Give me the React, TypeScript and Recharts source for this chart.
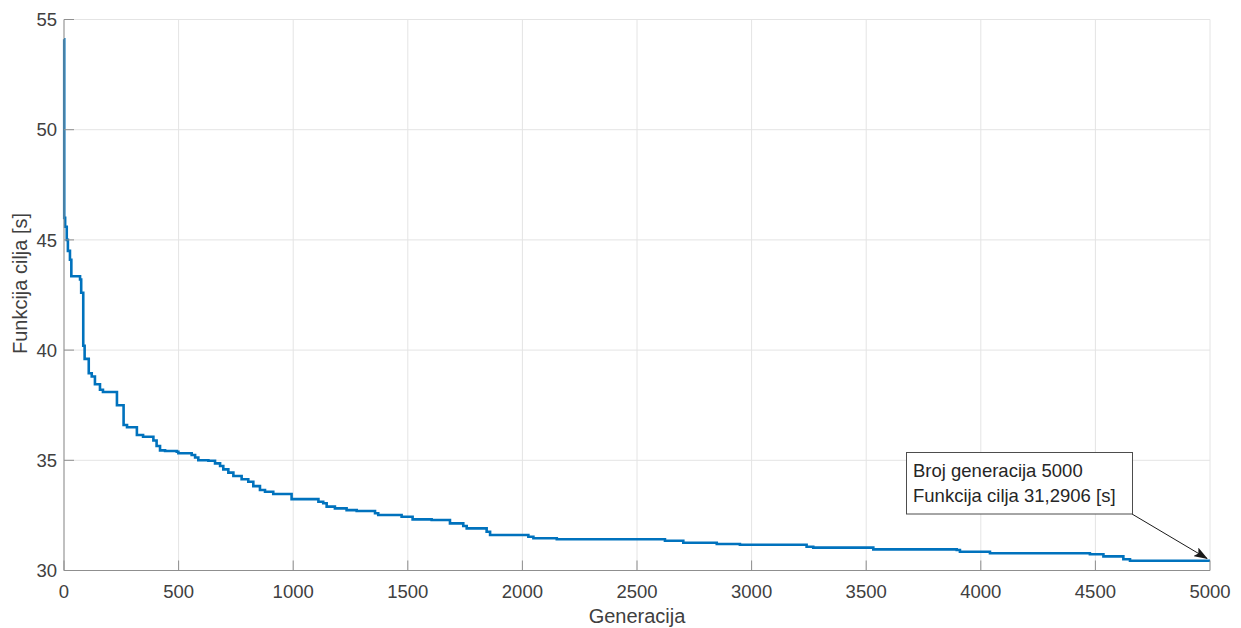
import {
  LineChart,
  Line,
  XAxis,
  YAxis,
  CartesianGrid,
} from "recharts";

// ── Data ──────────────────────────────────────────────────────────────────────

const GENERATIONS = [
  0, 1, 5, 12, 17, 26, 32, 70, 75, 84, 90, 108, 121, 135, 157, 170, 231, 260,
  275, 318, 345, 390, 404, 419, 441, 492, 499, 557, 572, 586, 630, 659, 681,
  695, 717, 739, 775, 804, 826, 855, 877, 913, 993, 1110, 1131, 1146, 1182,
  1233, 1277, 1357, 1371, 1473, 1521, 1604, 1684, 1742, 1757, 1844, 1859,
  2026, 2048, 2150, 2622, 2702, 2848, 2949, 3240, 3269, 3531, 3895, 3909,
  4040, 4476, 4535, 4622, 4651, 5000,
];

const FITNESS = [
  54.1, 46.0, 45.6, 45.0, 44.5, 44.1, 43.35, 43.2, 42.6, 40.2, 39.6, 38.95,
  38.8, 38.45, 38.2, 38.1, 37.5, 36.6, 36.5, 36.15, 36.07, 35.9, 35.65, 35.45,
  35.42, 35.39, 35.32, 35.24, 35.13, 35.0, 34.98, 34.86, 34.74, 34.59, 34.44,
  34.29, 34.14, 34.03, 33.83, 33.65, 33.57, 33.47, 33.24, 33.12, 33.05, 32.9,
  32.82, 32.74, 32.7, 32.6, 32.52, 32.44, 32.32, 32.29, 32.14, 32.02, 31.91,
  31.76, 31.61, 31.53, 31.46, 31.42, 31.35, 31.26, 31.2, 31.17, 31.08, 31.04,
  30.96, 30.93, 30.85, 30.78, 30.74, 30.64, 30.51, 30.44, 30.44,
];

const X_TICKS = [0, 500, 1000, 1500, 2000, 2500, 3000, 3500, 4000, 4500, 5000];
const Y_TICKS = [30, 35, 40, 45, 50, 55];

const ANNOTATION = ["Broj generacija 5000", "Funkcija cilja 31,2906 [s]"];

const data = GENERATIONS.map((g, i) => ({ gen: g, value: FITNESS[i] }));

// ── Styles ────────────────────────────────────────────────────────────────────

const FONT = '"Liberation Sans", Arial, Helvetica, sans-serif';
const AXIS = "#8f8f8f";
const GRID = "#e4e4e4";
const TEXT = "#404040";
const LINE = "#0072BD";
const TICK_LEN = 10;

// ── Ticks (MATLAB style: pointing inwards) ────────────────────────────────────

function BottomTick({ x, y, payload }: any) {
  return (
    <g>
      <line x1={x} y1={y} x2={x} y2={y - TICK_LEN} stroke={AXIS} />
      <text x={x} y={y + 27.5} textAnchor="middle" fontSize={18.5} fill={TEXT} fontFamily={FONT}>
        {payload.value}
      </text>
    </g>
  );
}

function TopTick({ x, y }: any) {
  return <line x1={x} y1={y} x2={x} y2={y + TICK_LEN} stroke={AXIS} />;
}

function LeftTick({ x, y, payload }: any) {
  return (
    <g>
      <line x1={x} y1={y} x2={x + TICK_LEN} y2={y} stroke={AXIS} />
      <text x={x - 7} y={y + 6.6} textAnchor="end" fontSize={18.5} fill={TEXT} fontFamily={FONT}>
        {payload.value}
      </text>
    </g>
  );
}

function RightTick({ x, y }: any) {
  return <line x1={x} y1={y} x2={x - TICK_LEN} y2={y} stroke={AXIS} />;
}

// ── Component ─────────────────────────────────────────────────────────────────

export default function App() {
  return (
    <div style={{ position: "absolute", left: 0, top: 0, width: 1241, height: 628, background: "#fff", fontFamily: FONT }}>
      <LineChart
        width={1241}
        height={628}
        data={data}
        margin={{ top: 19.5, right: 31, bottom: 0, left: 0 }}
      >
        <CartesianGrid stroke={GRID} />
        <XAxis
          dataKey="gen"
          type="number"
          domain={[0, 5000]}
          ticks={X_TICKS}
          height={57.5}
          tickSize={0}
          tickMargin={0}
          tickLine={false}
          axisLine={{ stroke: AXIS }}
          tick={<BottomTick />}
          interval={0}
        />
        <XAxis
          xAxisId="top"
          orientation="top"
          dataKey="gen"
          type="number"
          domain={[0, 5000]}
          ticks={X_TICKS}
          height={0}
          tickSize={0}
          tickMargin={0}
          tickLine={false}
          axisLine={{ stroke: AXIS }}
          tick={<TopTick />}
          interval={0}
        />
        <YAxis
          type="number"
          domain={[30, 55]}
          ticks={Y_TICKS}
          width={64}
          tickSize={0}
          tickMargin={0}
          tickLine={false}
          axisLine={{ stroke: AXIS }}
          tick={<LeftTick />}
          interval={0}
        />
        <YAxis
          yAxisId="right"
          orientation="right"
          type="number"
          domain={[30, 55]}
          ticks={Y_TICKS}
          width={0}
          tickSize={0}
          tickMargin={0}
          tickLine={false}
          axisLine={{ stroke: AXIS }}
          tick={<RightTick />}
          interval={0}
        />
        <Line
          type="stepAfter"
          dataKey="value"
          stroke={LINE}
          strokeWidth={2.6}
          dot={false}
          activeDot={false}
          isAnimationActive={false}
        />
      </LineChart>

      {/* Axis titles and the data-tip annotation */}
      <svg
        width={1241}
        height={628}
        style={{ position: "absolute", left: 0, top: 0, pointerEvents: "none" }}
      >
        <defs>
          <marker id="arrowHead" markerWidth="14" markerHeight="10" refX="13" refY="5" orient="auto" markerUnits="userSpaceOnUse">
            <path d="M0,0 L14,5 L0,10 L3,5 Z" fill="#1a1a1a" />
          </marker>
        </defs>
        <text x={637} y={623} textAnchor="middle" fontSize={20} fill={TEXT} fontFamily={FONT}>
          Generacija
        </text>
        <text
          x={26.5}
          y={283.5}
          textAnchor="middle"
          fontSize={20}
          fill={TEXT}
          fontFamily={FONT}
          transform="rotate(-90 26.5 283.5)"
        >
          Funkcija cilja [s]
        </text>

        <line x1={1132} y1={514} x2={1207} y2={558.5} stroke="#1a1a1a" strokeWidth={1} markerEnd="url(#arrowHead)" />
        <rect x={906.5} y={452.5} width={226} height={61.5} fill="#fff" stroke="#4d4d4d" strokeWidth={1} />
        {ANNOTATION.map((line, i) => (
          <text key={line} x={913} y={477 + i * 25} fontSize={18.5} fill="#262626" fontFamily={FONT}>
            {line}
          </text>
        ))}
      </svg>
    </div>
  );
}
